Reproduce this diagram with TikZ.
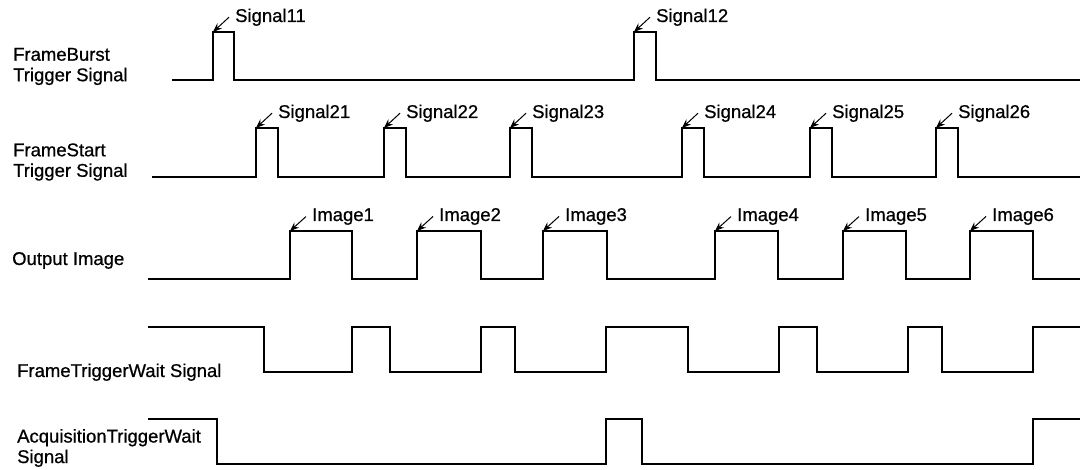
\documentclass[tikz,border=0pt]{standalone}
\usepackage{fontspec}
\setmainfont[FakeBold=0.7]{Liberation Sans}
\usetikzlibrary{positioning, arrows.meta}

\begin{document}
\begin{tikzpicture}[
    x=1pt, y=-1pt,
    >={Stealth[length=9pt, width=7pt]}, % punta pequeña y rellena
    onda/.style={line width=1.5pt, line join=miter},
    etiqueta/.style={font=\fontsize{18.5}{20.5}\selectfont, align=left, inner sep=0pt},
    pulso/.style={font=\fontsize{18.5}{20.5}\selectfont, inner xsep=6pt, inner ysep=0pt},
    flecha/.style={->, line width=1pt}
]
    \useasboundingbox (0,0) rectangle (1082,470);

    % 1. Nombres de las señales (columna izquierda)
    \node[etiqueta, anchor=west] (fburst) at (13,66.5) {FrameBurst\\Trigger Signal};
    \node[etiqueta, anchor=west] (fstart) at (13,162) {FrameStart\\Trigger Signal};
    \node[etiqueta, anchor=base west] (outimg) at (12,265) {Output Image};
    \node[etiqueta, anchor=base west] (ftwait) at (17,377) {FrameTriggerWait Signal};
    \node[etiqueta, anchor=west] (atwait) at (17,448) {AcquisitionTriggerWait\\Signal};

    % 2. FrameBurst Trigger Signal
    \draw[onda] (172,80) -- (213,80) -- (213,32) coordinate (fb1) -- (234,32) -- (234,80)
        -- (634,80) -- (634,32) coordinate (fb2) -- (656,32) -- (656,80) -- (1080,80);

    % 3. FrameStart Trigger Signal
    \draw[onda] (152,177) -- (256,177) -- (256,128) coordinate (fs1) -- (278,128) -- (278,177)
        -- (384,177) -- (384,128) coordinate (fs2) -- (406,128) -- (406,177)
        -- (510,177) -- (510,128) coordinate (fs3) -- (532,128) -- (532,177)
        -- (682,177) -- (682,128) coordinate (fs4) -- (704,128) -- (704,177)
        -- (810,177) -- (810,128) coordinate (fs5) -- (832,128) -- (832,177)
        -- (936,177) -- (936,128) coordinate (fs6) -- (958,128) -- (958,177) -- (1080,177);

    % 4. Output Image
    \draw[onda] (148,279) -- (290,279) -- (290,231) coordinate (oi1) -- (352,231) -- (352,279)
        -- (417,279) -- (417,231) coordinate (oi2) -- (481,231) -- (481,279)
        -- (543,279) -- (543,231) coordinate (oi3) -- (607,231) -- (607,279)
        -- (715,279) -- (715,231) coordinate (oi4) -- (778,231) -- (778,279)
        -- (843,279) -- (843,231) coordinate (oi5) -- (906,231) -- (906,279)
        -- (970,279) -- (970,231) coordinate (oi6) -- (1033,231) -- (1033,279) -- (1080,279);

    % 5. FrameTriggerWait Signal
    \draw[onda] (148,327) -- (264,327) -- (264,372) -- (352,372) -- (352,327)
        -- (390,327) -- (390,372) -- (481,372) -- (481,327) -- (515,327) -- (515,372)
        -- (606,372) -- (606,327) -- (688,327) -- (688,372) -- (779,372) -- (779,327)
        -- (817,327) -- (817,372) -- (908,372) -- (908,327) -- (942,327) -- (942,372)
        -- (1033,372) -- (1033,327) -- (1080,327);

    % 6. AcquisitionTriggerWait Signal
    \draw[onda] (148,419) -- (217,419) -- (217,464) -- (606,464) -- (606,419)
        -- (642,419) -- (642,464) -- (1033,464) -- (1033,419) -- (1080,419);

    % 7. Rótulos de cada pulso con su flecha
    \node[pulso, above right=10pt and 16pt of fb1, anchor=base west] (s11) {Signal11};
    \node[pulso, above right=10pt and 16pt of fb2, anchor=base west] (s12) {Signal12};
    \draw[flecha] (s11.west) -- (fb1);
    \draw[flecha] (s12.west) -- (fb2);

    \node[pulso, above right=10pt and 16pt of fs1, anchor=base west] (s21) {Signal21};
    \node[pulso, above right=10pt and 16pt of fs2, anchor=base west] (s22) {Signal22};
    \node[pulso, above right=10pt and 16pt of fs3, anchor=base west] (s23) {Signal23};
    \node[pulso, above right=10pt and 16pt of fs4, anchor=base west] (s24) {Signal24};
    \node[pulso, above right=10pt and 16pt of fs5, anchor=base west] (s25) {Signal25};
    \node[pulso, above right=10pt and 16pt of fs6, anchor=base west] (s26) {Signal26};
    \draw[flecha] (s21.west) -- (fs1);
    \draw[flecha] (s22.west) -- (fs2);
    \draw[flecha] (s23.west) -- (fs3);
    \draw[flecha] (s24.west) -- (fs4);
    \draw[flecha] (s25.west) -- (fs5);
    \draw[flecha] (s26.west) -- (fs6);

    \node[pulso, above right=10pt and 16pt of oi1, anchor=base west] (img1) {Image1};
    \node[pulso, above right=10pt and 16pt of oi2, anchor=base west] (img2) {Image2};
    \node[pulso, above right=10pt and 16pt of oi3, anchor=base west] (img3) {Image3};
    \node[pulso, above right=10pt and 16pt of oi4, anchor=base west] (img4) {Image4};
    \node[pulso, above right=10pt and 16pt of oi5, anchor=base west] (img5) {Image5};
    \node[pulso, above right=10pt and 16pt of oi6, anchor=base west] (img6) {Image6};
    \draw[flecha] (img1.west) -- (oi1);
    \draw[flecha] (img2.west) -- (oi2);
    \draw[flecha] (img3.west) -- (oi3);
    \draw[flecha] (img4.west) -- (oi4);
    \draw[flecha] (img5.west) -- (oi5);
    \draw[flecha] (img6.west) -- (oi6);

\end{tikzpicture}
\end{document}
